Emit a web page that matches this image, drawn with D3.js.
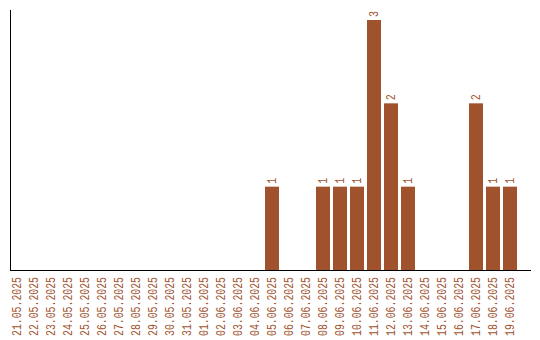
<!DOCTYPE html>
<html>
<head>
<meta charset="utf-8">
<script src="https://cdn.jsdelivr.net/npm/d3@7"></script>
<style>
  body { margin: 0; background: #fff; }
  text { font-family: "Liberation Mono", monospace; font-size: 12px; fill: #A0522D; }
</style>
</head>
<body>
<div id="chart"></div>
<script>
const dates = ['21.05.2025','22.05.2025','23.05.2025','24.05.2025','25.05.2025','26.05.2025','27.05.2025',
  '28.05.2025','29.05.2025','30.05.2025','31.05.2025','01.06.2025','02.06.2025','03.06.2025','04.06.2025',
  '05.06.2025','06.06.2025','07.06.2025','08.06.2025','09.06.2025','10.06.2025','11.06.2025','12.06.2025',
  '13.06.2025','14.06.2025','15.06.2025','16.06.2025','17.06.2025','18.06.2025','19.06.2025'];
const counts = [0,0,0,0,0,0,0,0,0,0,0,0,0,0,0,1,0,0,1,1,1,3,2,1,0,0,0,2,1,1];

const data = dates.map((d, i) => ({ date: d, count: counts[i] }));

const width = 540, height = 340;
const left = 10, bottom = 270;

const svg = d3.select('#chart').append('svg')
  .attr('width', width)
  .attr('height', height);

// step 17px, bar 14px
const x = d3.scaleBand()
  .domain(dates)
  .range([left, left + 17 * dates.length - 3])
  .paddingInner(3 / 17)
  .paddingOuter(0);

const y = d3.scaleLinear()
  .domain([0, d3.max(counts)])
  .range([bottom, 20]);

svg.selectAll('.bar')
  .data(data.filter(d => d.count > 0))
  .enter()
  .append('rect')
  .attr('class', 'bar')
  .attr('x', d => x(d.date))
  .attr('width', x.bandwidth())
  .attr('y', d => y(d.count))
  .attr('height', d => bottom - y(d.count))
  .style('fill', '#A0522D');

svg.selectAll('.val')
  .data(data.filter(d => d.count > 0))
  .enter()
  .append('text')
  .attr('class', 'val')
  .attr('transform', d => `translate(${x(d.date) + x.bandwidth() / 2 + 4},${y(d.count) - 3}) rotate(-90)`)
  .attr('textLength', 6)
  .attr('lengthAdjust', 'spacingAndGlyphs')
  .text(d => d.count);

svg.selectAll('.lbl')
  .data(data)
  .enter()
  .append('text')
  .attr('class', 'lbl')
  .attr('text-anchor', 'end')
  .attr('transform', d => `translate(${x(d.date) + x.bandwidth() / 2 + 4},277) rotate(-90)`)
  .attr('textLength', 59)
  .attr('lengthAdjust', 'spacingAndGlyphs')
  .text(d => d.date);

// axes lines, no ticks
svg.append('line')
  .attr('x1', left + 0.5).attr('x2', left + 0.5)
  .attr('y1', 10).attr('y2', bottom + 0.5)
  .attr('stroke', '#000');

svg.append('line')
  .attr('x1', left).attr('x2', 531)
  .attr('y1', bottom + 0.5).attr('y2', bottom + 0.5)
  .attr('stroke', '#000');
</script>
</body>
</html>
